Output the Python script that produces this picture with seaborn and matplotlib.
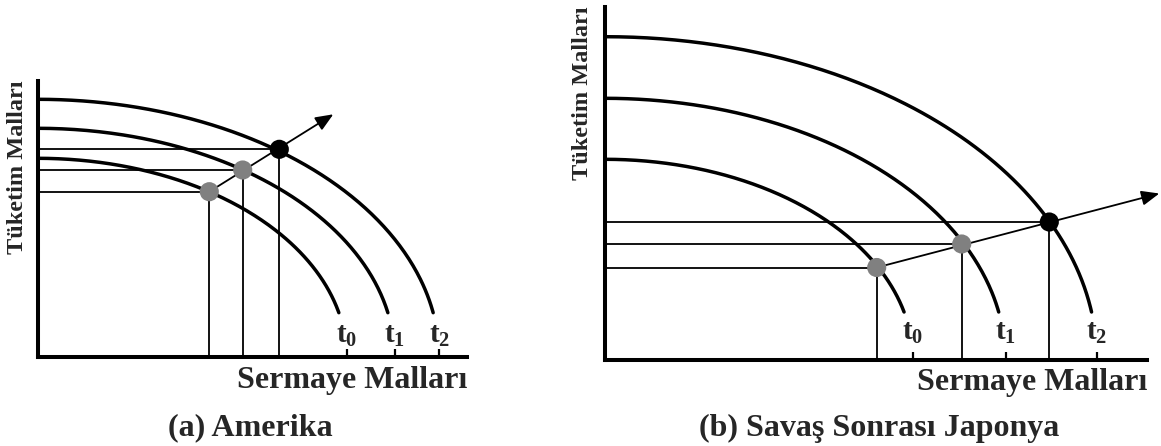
import numpy as np
import pandas as pd
import matplotlib
matplotlib.use('Agg')
import matplotlib.pyplot as plt
import seaborn as sns

# periods of the production possibility frontiers
periods = ['t0', 't1', 't2']
period_labels = [r'$\mathbf{t}_{\mathrm{0}}$', r'$\mathbf{t}_{\mathrm{1}}$', r'$\mathbf{t}_{\mathrm{2}}$']

# (a) Amerika - frontier intercepts and chosen points
us_cons_max = [199, 229, 258]        # consumption goods intercept
us_cap_max = [309, 357, 401.5]       # capital goods intercept (tick position)
us_cap = [171.6, 205, 241.6]         # chosen capital goods
us_cons = [165.6, 187.3, 208]        # chosen consumption goods
us_arrow_tip = [295.6, 243]

# (b) Savaş Sonrası Japonya
jp_cons_max = [200.7, 261.7, 323.3]
jp_cap_max = [308, 400.5, 492]
jp_cap = [271.7, 356.7, 444.3]
jp_cons = [92.5, 116, 138]
jp_arrow_tip = [554.3, 166.5]

point_colors = ['#808080', '#808080', '#000000']

sns.set_theme(style='white')
plt.rcParams['font.family'] = ['Liberation Serif', 'DejaVu Serif']
plt.rcParams['font.weight'] = 'bold'
plt.rcParams['mathtext.fontset'] = 'custom'
plt.rcParams['mathtext.bf'] = 'Liberation Serif:bold'
plt.rcParams['mathtext.rm'] = 'Liberation Serif'

W, H = 1161, 446
fig = plt.figure(figsize=(W / 100, H / 100), dpi=100)
fig.patch.set_facecolor('white')


def frontier_frame(cons_max, cap_max, cut):
    rows = []
    for p, b, a in zip(periods, cons_max, cap_max):
        th = np.linspace(0, np.arccos(cut / b), 200)
        rows.append(pd.DataFrame({'period': p, 'capital': a * np.sin(th),
                                  'consumption': b * np.cos(th)}))
    return pd.concat(rows, ignore_index=True)


def draw_panel(rect, xmax, ymax, cons_max, cap_max, cut, cap, cons, tip, label_y, ylab_x):
    ax = fig.add_axes(rect)
    ax.set_facecolor('white')
    df = frontier_frame(cons_max, cap_max, cut)
    sns.lineplot(data=df, x='capital', y='consumption', hue='period',
                 estimator=None, sort=False, palette=['black'] * 3, linewidth=2.5,
                 legend=False, ax=ax, zorder=3)
    # guide lines to the axes
    ax.hlines(cons, 0, cap, color='black', lw=1.3, zorder=2)
    ax.vlines(cap, 0, cons, color='black', lw=1.3, zorder=2)
    # growth path arrow
    ax.annotate('', xy=tip, xytext=(cap[0], cons[0]), annotation_clip=False,
                arrowprops=dict(arrowstyle='-|>,head_length=0.6,head_width=0.25',
                                color='black', lw=1.3, mutation_scale=18,
                                shrinkA=0, shrinkB=0), zorder=4)
    pts = pd.DataFrame({'capital': cap, 'consumption': cons, 'period': periods})
    sns.scatterplot(data=pts, x='capital', y='consumption', hue='period',
                    palette=point_colors, s=190, edgecolor='none', legend=False,
                    ax=ax, zorder=5)
    for a, lab in zip(cap_max, period_labels):
        ax.text(a, label_y, lab, ha='center', va='center', fontsize=21, zorder=6)

    ax.set_xlim(0, xmax)
    ax.set_ylim(0, ymax)
    sns.despine(ax=ax)
    for s in ['left', 'bottom']:
        ax.spines[s].set_linewidth(2.9)
        ax.spines[s].set_color('black')
    ax.set_xticks(cap_max)
    ax.set_yticks([])
    ax.tick_params(axis='x', direction='in', length=6, width=1.6, color='black',
                   bottom=True, labelbottom=False)
    ax.set_xlabel('')
    ax.set_ylabel('')
    ax.annotate('Sermaye Malları', xy=(1.0, 0.0), xycoords='axes fraction',
                xytext=(0, -6), textcoords='offset points', ha='right', va='top',
                fontsize=23, fontweight='bold')
    ax.text(ylab_x, 1.0, 'Tüketim Malları', transform=ax.transAxes, rotation=90,
            ha='center', va='top', fontsize=17.5, fontweight='bold')
    return ax


# panel (a): origin at (37.7, 357.3) px
ax1 = draw_panel([37.7 / W, (H - 357.3) / H, 429.3 / W, 276.3 / H], 429.3, 276.3,
                 us_cons_max, us_cap_max, 44.6, us_cap, us_cons, us_arrow_tip, 22.3, -0.048)
# panel (b): origin at (605, 360) px
ax2 = draw_panel([605 / W, (H - 360) / H, 542 / W, 353 / H], 542, 353,
                 jp_cons_max, jp_cap_max, 48, jp_cap, jp_cons, jp_arrow_tip, 27, -0.041)

fig.text(250 / W, 1 - 428 / H, '(a) Amerika', ha='center', va='center', fontsize=23, fontweight='bold')
fig.text(879 / W, 1 - 428 / H, '(b) Savaş Sonrası Japonya', ha='center', va='center',
         fontsize=23, fontweight='bold')

fig.savefig('out.png', dpi=100, facecolor='white')
